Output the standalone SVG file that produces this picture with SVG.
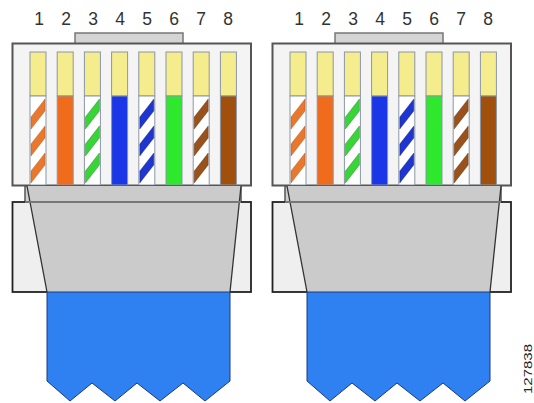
<svg xmlns="http://www.w3.org/2000/svg" xmlns:xlink="http://www.w3.org/1999/xlink" width="534" height="403" viewBox="0 0 534 403">
<style>
.num{font-family:"Liberation Sans",Arial,sans-serif;font-size:17.5px;fill:#333;text-anchor:middle}
.tab{fill:#d4d4d4;stroke:#777;stroke-width:1.5}
.body{fill:#f4f4f4;stroke:#555;stroke-width:2}
.pin{stroke:#8a96a6;stroke-width:1}
.yel{fill:#f5ec8e}
.strip{fill:#d0d0d0;stroke:#555;stroke-width:1.5}
.boot{fill:#efefef;stroke:#222;stroke-width:1.8}
.trap{fill:#cbcbcb;stroke:none}
.edge{fill:none;stroke:#333;stroke-width:1.3}
.cable{fill:#2f80f0;stroke:#1a3a80;stroke-width:1}
.id{font-family:"Liberation Sans",Arial,sans-serif;font-size:11px;fill:#222}
.st{stroke-width:0.6;stroke-opacity:0.6}
</style>
<defs>
<path id="stripes" d="M1,117 L15,99 L15,111 L1,129 Z M1,144 L15,126 L15,138 L1,156 Z M1,171 L15,153 L15,165 L1,183 Z"/>
<g id="plug">
<rect class="tab" x="75" y="33" width="108" height="11"/>
<rect class="body" x="12.5" y="43.5" width="238.5" height="142"/>
<g transform="translate(30,0)"><rect class="pin yel" x="0" y="52" width="16" height="44"/><rect class="pin" x="0" y="96" width="16" height="89" fill="#fff"/><use xlink:href="#stripes" class="st" fill="#e8782e" stroke="#a04a10"/></g>
<g transform="translate(57.2,0)"><rect class="pin yel" x="0" y="52" width="16" height="44"/><rect class="pin" x="0" y="96" width="16" height="89" fill="#f06c1c"/></g>
<g transform="translate(84.4,0)"><rect class="pin yel" x="0" y="52" width="16" height="44"/><rect class="pin" x="0" y="96" width="16" height="89" fill="#fff"/><use xlink:href="#stripes" class="st" fill="#38d438" stroke="#1a601a"/></g>
<g transform="translate(111.6,0)"><rect class="pin yel" x="0" y="52" width="16" height="44"/><rect class="pin" x="0" y="96" width="16" height="89" fill="#1a36e6"/></g>
<g transform="translate(138.8,0)"><rect class="pin yel" x="0" y="52" width="16" height="44"/><rect class="pin" x="0" y="96" width="16" height="89" fill="#fff"/><use xlink:href="#stripes" class="st" fill="#1f35d0" stroke="#101a60"/></g>
<g transform="translate(166,0)"><rect class="pin yel" x="0" y="52" width="16" height="44"/><rect class="pin" x="0" y="96" width="16" height="89" fill="#2ee82e"/></g>
<g transform="translate(193.2,0)"><rect class="pin yel" x="0" y="52" width="16" height="44"/><rect class="pin" x="0" y="96" width="16" height="89" fill="#fff"/><use xlink:href="#stripes" class="st" fill="#99521c" stroke="#4a2408"/></g>
<g transform="translate(220.4,0)"><rect class="pin yel" x="0" y="52" width="16" height="44"/><rect class="pin" x="0" y="96" width="16" height="89" fill="#a0500c"/></g>
<rect class="strip" x="25" y="186" width="216" height="16"/>
<rect class="boot" x="12.5" y="202" width="238.5" height="90"/>
<polygon class="trap" points="27,186 241,186 230,292 47,292"/>
<path class="edge" d="M27,186 L47,292 M241,186 L230,292"/>
<line x1="25" y1="202" x2="241" y2="202" stroke="#777" stroke-width="2"/>
<polygon class="cable" points="47,292 230,292 230,381 205,401 183,383 160,401 137,383 115,401 92,383 70,401 47,381"/>
</g>
</defs>
<g id="plug-left">
<use xlink:href="#plug"/>
<text class="num" x="39" y="25">1</text>
<text class="num" x="66" y="25">2</text>
<text class="num" x="93" y="25">3</text>
<text class="num" x="120" y="25">4</text>
<text class="num" x="147" y="25">5</text>
<text class="num" x="174" y="25">6</text>
<text class="num" x="201" y="25">7</text>
<text class="num" x="228" y="25">8</text>
</g>
<g id="plug-right" transform="translate(260,0)">
<use xlink:href="#plug"/>
<text class="num" x="39" y="25">1</text>
<text class="num" x="66" y="25">2</text>
<text class="num" x="93" y="25">3</text>
<text class="num" x="120" y="25">4</text>
<text class="num" x="147" y="25">5</text>
<text class="num" x="174" y="25">6</text>
<text class="num" x="201" y="25">7</text>
<text class="num" x="228" y="25">8</text>
</g>
<g id="connectors"/>
<g id="figure-id">
<text class="id" transform="translate(532,394) rotate(-90)" textLength="50" lengthAdjust="spacingAndGlyphs">127838</text>
</g>
</svg>
